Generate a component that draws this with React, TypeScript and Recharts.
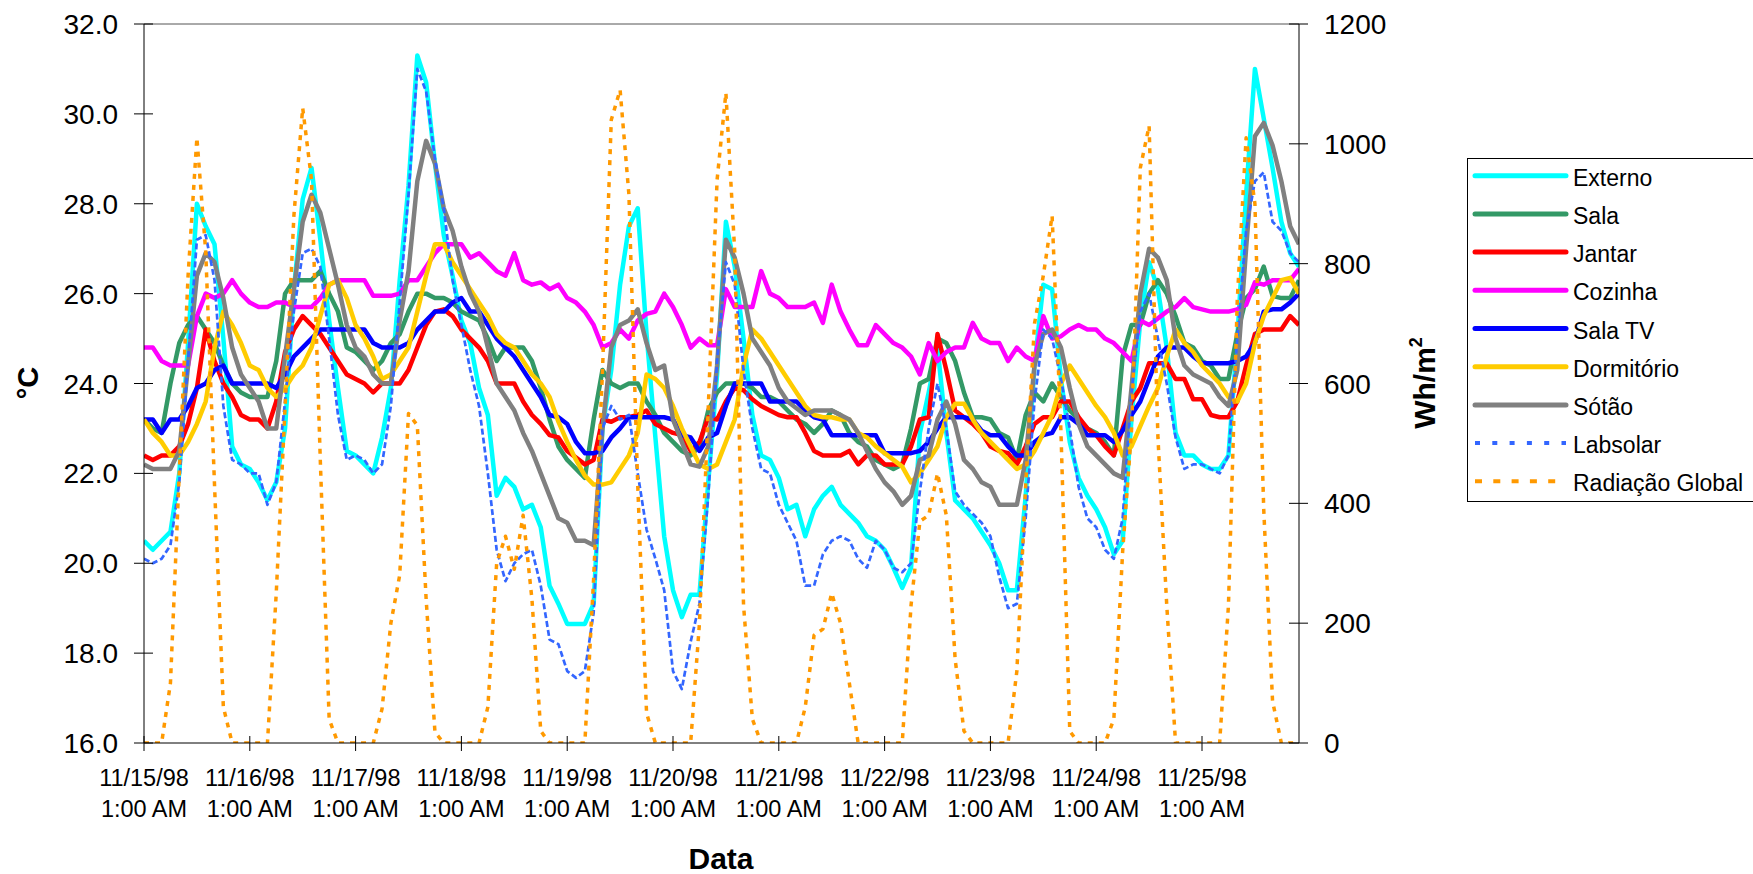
import React from 'react';
import { LineChart, Line, XAxis, YAxis, ReferenceLine } from 'recharts';

const FONT = '"Liberation Sans", Arial, sans-serif';

// readings every 2 hours, hour 0 = 11/15/98 1:00 AM
const hours = Array.from({ length: 132 }, (_, i) => i * 2);

const dayTicks = [0, 24, 48, 72, 96, 120, 144, 168, 192, 216, 240];
const dayLabels = [
  '11/15/98', '11/16/98', '11/17/98', '11/18/98', '11/19/98', '11/20/98',
  '11/21/98', '11/22/98', '11/23/98', '11/24/98', '11/25/98',
];
const timeLabel = '1:00 AM';
const tempTicks = [16, 18, 20, 22, 24, 26, 28, 30, 32];
const radTicks = [0, 200, 400, 600, 800, 1000, 1200];

// one row = one day (12 readings)
const externo = [
  20.5, 20.3, 20.5, 20.7, 22.0, 24.9, 28.0, 27.5, 27.1, 25.0, 22.6, 22.2,
  22.1, 21.8, 21.4, 21.8, 23.0, 26.1, 28.1, 28.8, 27.2, 25.4, 23.9, 22.5,
  22.4, 22.2, 22.0, 22.8, 23.9, 26.3, 28.4, 31.3, 30.7, 28.9, 27.3, 26.4,
  25.4, 24.9, 23.9, 23.3, 21.5, 21.9, 21.7, 21.2, 21.3, 20.8, 19.5, 19.1,
  18.65, 18.65, 18.65, 19.1, 23.0, 24.3, 26.2, 27.5, 27.9, 25.1, 22.8, 20.6,
  19.4, 18.8, 19.3, 19.3, 21.8, 24.2, 27.6, 26.6, 25.0, 23.3, 22.4, 22.3,
  21.9, 21.2, 21.3, 20.6, 21.2, 21.5, 21.7, 21.3, 21.1, 20.9, 20.6, 20.5,
  20.3, 19.9, 19.45, 19.9, 22.9, 23.8, 24.8, 22.9, 21.4, 21.2, 21.0, 20.7,
  20.4, 20.0, 19.4, 19.4, 21.5, 24.4, 26.2, 26.1, 24.1, 22.7, 21.9, 21.5,
  21.2, 20.8, 20.2, 20.5, 23.2, 25.4, 26.7, 26.1, 24.8, 22.9, 22.4, 22.4,
  22.2, 22.1, 22.1, 22.4, 25.0, 28.2, 31.0, 29.9, 28.8, 27.6, 26.9, 26.6,
];

const sala = [
  23.2, 23.0, 22.9, 24.0, 24.9, 25.3, 25.5, 25.2, 24.9, 24.4, 24.0, 23.8,
  23.7, 23.7, 23.7, 24.5, 26.0, 26.3, 26.3, 26.3, 26.5, 26.0, 25.6, 24.8,
  24.7, 24.5, 24.3, 24.5, 24.9, 25.1, 25.6, 26.0, 26.0, 25.9, 25.9, 25.8,
  25.6, 25.5, 25.4, 25.0, 24.5, 24.8, 24.8, 24.8, 24.5, 23.9, 23.2, 22.6,
  22.3, 22.1, 21.9, 23.2, 24.3, 24.0, 23.9, 24.0, 24.0, 23.6, 23.3, 22.9,
  22.7, 22.5, 22.4, 22.6, 23.4, 23.8, 24.0, 24.0, 24.0, 23.9, 23.7, 23.7,
  23.6, 23.4, 23.2, 23.1, 22.9, 23.1, 23.4, 23.3, 22.9, 22.7, 22.6, 22.3,
  22.2, 22.1, 22.2, 23.0, 24.0, 24.1, 25.0, 24.9, 24.5, 23.8, 23.25, 23.25,
  23.2, 22.9, 22.8, 22.3, 23.3, 23.8, 23.6, 24.0, 23.7, 23.4, 23.2, 23.0,
  22.9, 22.7, 22.4, 24.6, 25.3, 25.3, 26.0, 26.3, 26.0, 25.5, 24.9, 24.8,
  24.5, 24.4, 24.1, 24.1, 25.1, 25.9, 26.1, 26.6, 25.95, 25.9, 25.9, 26.3,
];

const jantar = [
  22.4, 22.3, 22.4, 22.4, 22.6, 23.1, 23.9, 25.2, 24.5, 24.0, 23.7, 23.3,
  23.2, 23.2, 23.0, 23.6, 24.7, 25.2, 25.5, 25.3, 25.1, 24.8, 24.5, 24.2,
  24.1, 24.0, 23.8, 24.0, 24.0, 24.0, 24.3, 24.8, 25.3, 25.6, 25.65, 25.5,
  25.2, 25.0, 24.8, 24.5, 24.0, 24.0, 24.0, 23.6, 23.3, 23.1, 22.85, 22.8,
  22.5, 22.35, 22.2, 22.3, 23.2, 23.15, 23.25, 23.25, 23.3, 23.4, 23.1, 23.0,
  22.9, 22.85, 22.5, 22.7, 23.25, 23.2, 23.6, 23.9, 23.85, 23.65, 23.5, 23.4,
  23.3, 23.25, 23.25, 22.9, 22.5, 22.4, 22.4, 22.4, 22.5, 22.2, 22.4, 22.4,
  22.2, 22.2, 22.2, 22.6, 23.2, 23.25, 25.1, 24.3, 23.4, 23.25, 23.1, 22.9,
  22.6, 22.5, 22.45, 22.2, 22.6, 23.1, 23.25, 23.25, 23.6, 23.6, 23.25, 23.0,
  22.85, 22.6, 22.4, 23.0, 23.6, 23.9, 24.45, 24.45, 24.45, 24.1, 24.1, 23.65,
  23.65, 23.3, 23.25, 23.25, 23.6, 24.4, 25.1, 25.2, 25.2, 25.2, 25.5, 25.3,
];

const cozinha = [
  24.8, 24.8, 24.5, 24.4, 24.4, 24.4, 25.5, 26.0, 25.9, 26.0, 26.3, 26.0,
  25.8, 25.7, 25.7, 25.8, 25.8, 25.7, 25.7, 25.7, 25.9, 26.2, 26.3, 26.3,
  26.3, 26.3, 25.95, 25.95, 25.95, 26.0, 26.3, 26.3, 26.6, 26.9, 27.1, 27.1,
  27.1, 26.8, 26.9, 26.7, 26.5, 26.4, 26.9, 26.3, 26.2, 26.25, 26.1, 26.2,
  25.9, 25.8, 25.6, 25.3, 24.8, 24.9, 25.2, 25.0, 25.4, 25.55, 25.6, 26.0,
  25.7, 25.3, 24.8, 25.0, 24.85, 24.85, 26.1, 25.7, 25.7, 25.7, 26.5, 26.0,
  25.9, 25.7, 25.7, 25.7, 25.8, 25.35, 26.2, 25.6, 25.2, 24.85, 24.85, 25.3,
  25.1, 24.9, 24.8, 24.6, 24.2, 24.9, 24.5, 24.7, 24.8, 24.8, 25.35, 25.0,
  24.9, 24.9, 24.5, 24.8, 24.6, 24.5, 25.5, 25.0, 25.05, 25.2, 25.3, 25.2,
  25.2, 25.0, 24.9, 24.7, 24.5, 25.4, 25.3, 25.45, 25.6, 25.7, 25.9, 25.7,
  25.65, 25.6, 25.6, 25.6, 25.65, 25.75, 26.25, 26.2, 26.3, 26.3, 26.3, 26.55,
];

const salaTv = [
  23.2, 23.2, 22.9, 23.2, 23.2, 23.5, 23.9, 24.0, 24.3, 24.4, 24.0, 24.0,
  24.0, 24.0, 24.0, 23.9, 24.2, 24.6, 24.8, 25.0, 25.2, 25.2, 25.2, 25.2,
  25.2, 25.2, 24.9, 24.8, 24.8, 24.8, 24.9, 25.2, 25.4, 25.6, 25.6, 25.8,
  25.9, 25.6, 25.6, 25.3, 25.0, 24.8, 24.6, 24.3, 24.0, 23.7, 23.3, 23.25,
  23.1, 22.7, 22.45, 22.45, 22.5, 22.8, 23.0, 23.25, 23.25, 23.25, 23.25, 23.25,
  23.2, 22.85, 22.8, 22.5, 22.8, 22.9, 23.5, 24.0, 24.0, 24.0, 24.0, 23.6,
  23.6, 23.6, 23.6, 23.4, 23.25, 23.2, 22.85, 22.85, 22.85, 22.85, 22.85, 22.85,
  22.45, 22.45, 22.45, 22.45, 22.5, 22.7, 23.0, 23.25, 23.25, 23.25, 23.2, 22.95,
  22.85, 22.85, 22.6, 22.4, 22.4, 22.7, 22.85, 22.9, 23.25, 23.25, 23.1, 22.85,
  22.85, 22.85, 22.7, 22.95, 23.3, 23.6, 24.1, 24.6, 24.8, 24.8, 24.8, 24.6,
  24.45, 24.45, 24.45, 24.45, 24.5, 24.6, 24.9, 25.6, 25.65, 25.65, 25.8, 26.0,
];

const dormitorio = [
  23.2, 22.9, 22.7, 22.4, 22.4, 22.7, 23.1, 23.6, 24.8, 25.6, 25.3, 24.9,
  24.4, 24.3, 23.9, 23.7, 23.9, 24.2, 24.4, 24.8, 25.5, 26.2, 26.3, 25.9,
  25.3, 25.0, 24.6, 24.1, 24.2, 24.5, 24.8, 25.6, 26.4, 27.1, 27.1, 26.7,
  26.4, 26.1, 25.8, 25.5, 25.1, 24.9, 24.8, 24.5, 24.2, 24.0, 23.7, 23.15,
  22.7, 22.3, 21.95, 21.75, 21.75, 21.8, 22.1, 22.4, 22.9, 24.2, 24.1, 23.9,
  23.5, 23.0, 22.6, 22.2, 22.1, 22.2, 22.7, 23.2, 24.4, 25.2, 25.0, 24.7,
  24.4, 24.1, 23.8, 23.5, 23.3, 23.25, 23.25, 23.2, 23.2, 22.9, 22.8, 22.6,
  22.45, 22.3, 22.15, 21.8, 22.0, 22.3, 22.6, 23.25, 23.55, 23.55, 23.2, 22.9,
  22.7, 22.5, 22.3, 22.1, 22.2, 22.5, 22.9, 23.3, 24.0, 24.4, 24.1, 23.8,
  23.5, 23.25, 22.9, 22.4, 22.6, 23.05, 23.5, 23.9, 24.6, 25.2, 24.9, 24.7,
  24.4, 24.2, 24.0, 23.7, 23.6, 24.0, 24.9, 25.5, 25.9, 26.3, 26.35, 26.0,
];

const sotao = [
  22.2, 22.1, 22.1, 22.1, 22.5, 24.4, 26.4, 26.9, 26.7, 25.9, 24.8, 24.2,
  23.9, 23.6, 23.0, 23.0, 24.6, 26.1, 27.6, 28.2, 27.8, 27.0, 26.2, 25.3,
  24.8, 24.6, 24.2, 24.0, 24.0, 25.4, 26.5, 28.5, 29.4, 28.9, 27.9, 27.4,
  26.6, 26.0, 25.6, 24.8, 24.0, 23.7, 23.4, 22.9, 22.5, 22.0, 21.5, 21.0,
  20.9, 20.5, 20.5, 20.4, 23.0, 24.8, 25.3, 25.4, 25.65, 24.9, 24.3, 24.4,
  23.2, 22.7, 22.2, 22.15, 22.6, 24.4, 27.2, 26.8, 26.0, 25.0, 24.7, 24.4,
  23.9, 23.6, 23.45, 23.3, 23.4, 23.4, 23.4, 23.3, 23.2, 22.9, 22.5, 22.1,
  21.8, 21.6, 21.3, 21.5, 22.3, 22.4, 23.2, 23.6, 23.1, 22.3, 22.1, 21.8,
  21.7, 21.3, 21.3, 21.3, 22.3, 24.4, 25.1, 25.2, 24.8, 23.9, 23.1, 22.6,
  22.4, 22.2, 22.0, 21.9, 23.9, 26.0, 27.0, 26.8, 26.3, 25.0, 24.4, 24.2,
  24.1, 24.0, 23.7, 23.5, 24.3, 27.0, 29.5, 29.8, 29.3, 28.5, 27.5, 27.1,
];

const labsolar = [
  20.1, 20.0, 20.1, 20.4, 21.8, 24.5, 27.2, 27.3, 26.3, 23.5, 22.3, 22.2,
  22.0, 22.0, 21.3, 21.8, 23.6, 25.6, 26.9, 27.0, 26.6, 25.0, 23.3, 22.3,
  22.4, 22.3, 22.0, 22.2, 23.5, 25.8, 28.2, 31.0, 30.5, 29.0, 27.9, 26.3,
  25.3, 24.3, 23.5, 22.0, 20.3, 19.6, 20.0, 20.2, 20.3, 19.5, 18.3, 18.2,
  17.6, 17.45, 17.6, 18.9, 23.0, 23.5, 23.2, 23.3, 22.0, 20.75, 20.1, 19.4,
  17.6, 17.2, 18.25, 19.1, 21.5, 24.5, 26.7, 26.2, 24.3, 23.0, 22.1, 22.0,
  21.3, 20.9, 20.5, 19.5, 19.5, 20.2, 20.5, 20.6, 20.5, 20.1, 19.9, 20.5,
  20.3, 19.9, 19.8, 20.0, 21.6, 23.0, 24.0, 23.0, 21.6, 21.3, 21.1, 20.9,
  20.6, 19.7, 19.0, 19.1, 21.0, 23.6, 25.2, 25.0, 24.1, 23.0, 21.7, 21.0,
  20.8, 20.3, 20.1, 21.0, 23.8, 25.6, 26.0, 25.0, 24.0, 22.8, 22.1, 22.2,
  22.2, 22.1, 22.0, 22.4, 25.0, 27.4, 28.5, 28.7, 27.6, 27.4, 26.9, 26.7,
];

// Wh/m2, right axis
const radiacao = [
  0, 0, 0, 100, 450, 780, 1010, 820, 430, 60, 0, 0,
  0, 0, 0, 250, 560, 880, 1060, 940, 470, 40, 0, 0,
  0, 0, 0, 57, 200, 280, 550, 530, 240, 18, 0, 0,
  0, 0, 0, 60, 300, 345, 290, 380, 240, 20, 0, 0,
  0, 0, 0, 275, 620, 1040, 1090, 915, 430, 50, 0, 0,
  0, 0, 0, 200, 560, 940, 1085, 820, 230, 40, 0, 0,
  0, 0, 0, 60, 180, 190, 250, 200, 100, 0, 0, 0,
  0, 0, 0, 230, 370, 380, 450, 380, 140, 20, 0, 0,
  0, 0, 0, 120, 430, 700, 780, 880, 520, 20, 0, 0,
  0, 0, 40, 320, 520, 960, 1030, 510, 230, 0, 0, 0,
  0, 0, 0, 230, 740, 1010, 900, 390, 70, 0, 0, 0,
];

const series = [
  { key: 'externo', name: 'Externo', values: externo, color: '#00FFFF', axis: 'left', width: 4.5 },
  { key: 'sala', name: 'Sala', values: sala, color: '#339966', axis: 'left', width: 4.5 },
  { key: 'jantar', name: 'Jantar', values: jantar, color: '#FF0000', axis: 'left', width: 4.5 },
  { key: 'cozinha', name: 'Cozinha', values: cozinha, color: '#FF00FF', axis: 'left', width: 4.5 },
  { key: 'salaTv', name: 'Sala TV', values: salaTv, color: '#0000FF', axis: 'left', width: 4.5 },
  { key: 'dormitorio', name: 'Dormitório', values: dormitorio, color: '#FFCC00', axis: 'left', width: 4.5 },
  { key: 'sotao', name: 'Sótão', values: sotao, color: '#808080', axis: 'left', width: 4.5 },
  { key: 'labsolar', name: 'Labsolar', values: labsolar, color: '#3366FF', axis: 'left', width: 2.7, dash: '6 3', legendDash: '5 12.3' },
  { key: 'radiacao', name: 'Radiação Global', values: radiacao, color: '#FF9900', axis: 'right', width: 3.5, dash: '5 6', legendDash: '7 11.3' },
];

const data = hours.map((h, i) => {
  const row: Record<string, number> = { h };
  series.forEach((s) => {
    row[s.key] = s.values[i];
  });
  return row;
});

const LeftTick = (props: any) => {
  const { x, y, payload } = props;
  const ax = x + 26;
  return (
    <g>
      <line x1={ax - 10} x2={ax + 9} y1={y} y2={y} stroke="#000" />
      <text x={x} y={y + 10} textAnchor="end" fontSize={28} fontFamily={FONT} fill="#000">
        {Number(payload.value).toFixed(1)}
      </text>
    </g>
  );
};

const RightTick = (props: any) => {
  const { x, y, payload } = props;
  const ax = x - 25;
  return (
    <g>
      <line x1={ax - 10} x2={ax + 9} y1={y} y2={y} stroke="#000" />
      <text x={x} y={y + 10} textAnchor="start" fontSize={28} fontFamily={FONT} fill="#000">
        {payload.value}
      </text>
    </g>
  );
};

const DayTick = (props: any) => {
  const { x, y, payload } = props;
  const idx = dayTicks.indexOf(payload.value);
  return (
    <g>
      <line x1={x} x2={x} y1={y - 7} y2={y + 8} stroke="#000" />
      <text x={x} y={y + 43} textAnchor="middle" fontSize={23.5} fontFamily={FONT} fill="#000">
        {dayLabels[idx]}
      </text>
      <text x={x} y={y + 74} textAnchor="middle" fontSize={23.5} fontFamily={FONT} fill="#000">
        {timeLabel}
      </text>
    </g>
  );
};

export default function App() {
  return (
    <div
      style={{
        position: 'absolute',
        left: 0,
        top: 0,
        width: 1753,
        height: 874,
        overflow: 'hidden',
        background: '#fff',
      }}
    >
      <LineChart width={1753} height={874} data={data} margin={{ top: 24, right: 314, bottom: 0, left: 0 }}>
        <XAxis
          dataKey="h"
          type="number"
          domain={[0, 262]}
          ticks={dayTicks}
          interval={0}
          allowDataOverflow
          height={131}
          tickSize={0}
          tickMargin={0}
          tick={DayTick}
          axisLine={{ stroke: '#000' }}
        />
        <YAxis
          yAxisId="left"
          domain={[16, 32]}
          ticks={tempTicks}
          interval={0}
          allowDataOverflow
          width={144}
          tickSize={0}
          tickMargin={26}
          tick={LeftTick}
          axisLine={{ stroke: '#000' }}
        />
        <YAxis
          yAxisId="right"
          orientation="right"
          domain={[0, 1200]}
          ticks={radTicks}
          interval={0}
          allowDataOverflow
          width={140}
          tickSize={0}
          tickMargin={25}
          tick={RightTick}
          axisLine={{ stroke: '#000' }}
        />
        <ReferenceLine yAxisId="left" y={32} stroke="#555" />
        {series.map((s) => (
          <Line
            key={s.key}
            yAxisId={s.axis}
            dataKey={s.key}
            name={s.name}
            type="linear"
            stroke={s.color}
            strokeWidth={s.width}
            strokeDasharray={s.dash}
            strokeLinejoin="round"
            dot={false}
            activeDot={false}
            isAnimationActive={false}
          />
        ))}
      </LineChart>

      <svg
        width={1753}
        height={874}
        style={{ position: 'absolute', left: 0, top: 0, pointerEvents: 'none' }}
        fontFamily={FONT}
      >
        <text transform="translate(38,383) rotate(-90)" textAnchor="middle" fontSize={29} fontWeight="bold">
          °C
        </text>
        <text transform="translate(1435,383) rotate(-90)" textAnchor="middle" fontSize={30} fontWeight="bold">
          Wh/m<tspan fontSize={18} dy={-13}>2</tspan>
        </text>
        <text x={721} y={869} textAnchor="middle" fontSize={30} fontWeight="bold">
          Data
        </text>

        <rect x={1467.5} y={158.5} width={300} height={343} fill="#fff" stroke="#000" />
        {series.map((s, i) => {
          const cy = 175.7 + i * 38.2;
          return (
            <g key={s.key}>
              <line
                x1={1475}
                x2={1566}
                y1={cy}
                y2={cy}
                stroke={s.color}
                strokeWidth={s.dash ? 4 : 5}
                strokeDasharray={s.legendDash}
                strokeLinecap={s.dash ? 'butt' : 'round'}
              />
              <text x={1573} y={cy + 10} fontSize={23} fill="#000">
                {s.name}
              </text>
            </g>
          );
        })}
      </svg>
    </div>
  );
}
